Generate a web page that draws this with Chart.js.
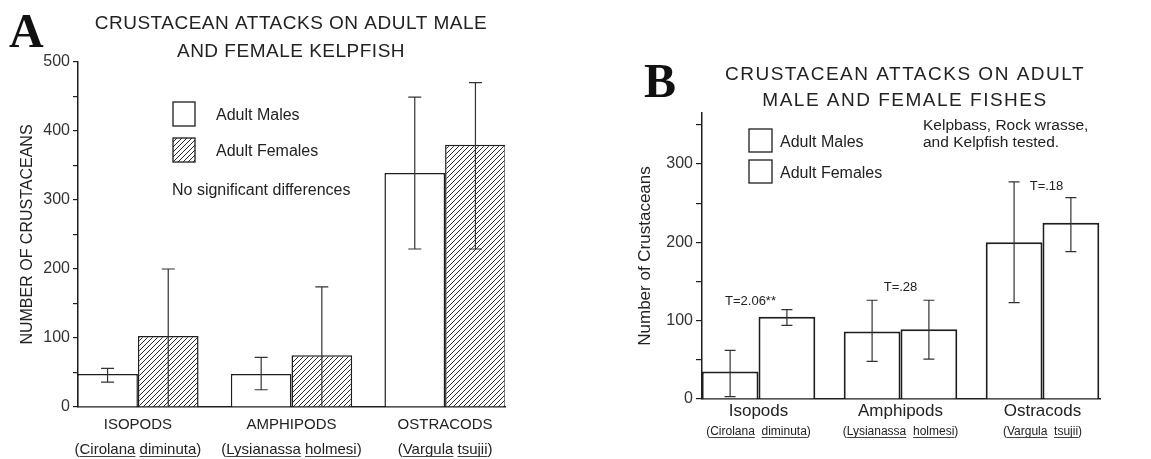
<!DOCTYPE html>
<html>
<head>
<meta charset="utf-8">
<script src="https://cdn.jsdelivr.net/npm/chart.js@4.4.1/dist/chart.umd.min.js"></script>
<style>
  body { margin: 0; background: #fff; }
  #wrap { position: relative; width: 1151px; height: 459px; }
  canvas { position: absolute; top: 0; }
  #chartA { left: 0; }
  #chartB { left: 575px; }
</style>
</head>
<body>
<div id="wrap">
  <canvas id="chartA" width="575" height="459"></canvas>
  <canvas id="chartB" width="576" height="459"></canvas>
</div>
<script>
// --- panel A: kelpfish only ---
const groupsA = ['ISOPODS', 'AMPHIPODS', 'OSTRACODS'];
const maleA = [48, 48, 339];
const maleLowA = [36, 25, 229];
const maleHighA = [56, 72, 449];
const femaleA = [103, 75, 380];
const femaleLowA = [0, 0, 229];
const femaleHighA = [200, 174, 470];
const yTicksA = [0, 50, 100, 150, 200, 250, 300, 350, 400, 450, 500];

// --- panel B: three fishes ---
const groupsB = ['Isopods', 'Amphipods', 'Ostracods'];
const maleB = [35, 86, 200];
const maleLowB = [3, 48, 123];
const maleHighB = [62, 126, 277];
const femaleB = [105, 89, 225];
const femaleLowB = [94, 51, 188];
const femaleHighB = [114, 126, 257];
const yTicksB = [0, 50, 100, 150, 200, 250, 300, 350];
const tLabelsB = ['T=2.06**', 'T=.28', 'T=.18'];
const tValuesB = [124, 143, 271];

// species names under each group (genus, species)
const species = [['Cirolana', 'diminuta'], ['Lysianassa', 'holmesi'], ['Vargula', 'tsujii']];

const INK = '#1e1e1e';
const TEXT = '#222';
const SANS = "'Liberation Sans', Arial, Helvetica, sans-serif";
const SERIF = "'Liberation Serif', 'Times New Roman', serif";

Chart.defaults.font.family = SANS;
Chart.defaults.color = TEXT;

function hatch() {
  const c = document.createElement('canvas');
  c.width = 5; c.height = 5;
  const g = c.getContext('2d');
  g.fillStyle = '#fff';
  g.fillRect(0, 0, 5, 5);
  g.strokeStyle = '#2a2a2a';
  g.lineWidth = 1;
  g.beginPath();
  g.moveTo(0, 5); g.lineTo(5, 0);
  g.moveTo(-1, 1); g.lineTo(1, -1);
  g.moveTo(4, 6); g.lineTo(6, 4);
  g.stroke();
  return g.createPattern(c, 'repeat');
}

const points = arr => arr.map((v, i) => ({ x: i, y: v }));

const errorBars = {
  id: 'errorBars',
  afterDatasetsDraw(chart) {
    const { ctx } = chart;
    const y = chart.scales.y;
    const cap = chart.canvas.id === 'chartA' ? 6.5 : 5.5;
    chart.data.datasets.forEach((ds, di) => {
      chart.getDatasetMeta(di).data.forEach((bar, i) => {
        const top = y.getPixelForValue(ds.errHigh[i]);
        const bot = y.getPixelForValue(ds.errLow[i]);
        ctx.save();
        ctx.strokeStyle = '#333';
        ctx.lineWidth = 1.2;
        ctx.beginPath();
        ctx.moveTo(bar.x, top); ctx.lineTo(bar.x, bot);
        ctx.moveTo(bar.x - cap, top); ctx.lineTo(bar.x + cap, top);
        if (ds.errLow[i] > 0) { ctx.moveTo(bar.x - cap, bot); ctx.lineTo(bar.x + cap, bot); }
        ctx.stroke();
        ctx.restore();
      });
    });
  }
};

// letter, title, legend, notes, species names, T labels
function decor(d) {
  return {
    id: 'decor',
    afterDraw(chart) {
      const { ctx, chartArea } = chart;
      const xs = chart.scales.x, ys = chart.scales.y;
      ctx.save();
      ctx.fillStyle = '#111';
      ctx.textBaseline = 'alphabetic';
      ctx.textAlign = 'left';
      ctx.font = 'bold 48px ' + SERIF;
      ctx.fillText(d.letter, d.letterX, d.letterY);

      ctx.fillStyle = TEXT;
      ctx.textAlign = 'center';
      ctx.textBaseline = 'middle';
      ctx.font = d.titleSize + 'px ' + SANS;
      ctx.letterSpacing = d.titleSpacing;
      d.title.forEach((t, i) => ctx.fillText(t, d.titleX, d.titleY[i]));
      ctx.letterSpacing = '0px';

      // legend
      ctx.textAlign = 'left';
      ctx.font = '16px ' + SANS;
      chart.data.datasets.forEach((ds, i) => {
        ctx.fillStyle = ds.backgroundColor;
        ctx.fillRect(d.boxX, d.boxY[i], d.boxW, d.boxH);
        ctx.strokeStyle = INK;
        ctx.lineWidth = 1.3;
        ctx.strokeRect(d.boxX, d.boxY[i], d.boxW, d.boxH);
        ctx.fillStyle = TEXT;
        ctx.fillText(ds.label, d.legTextX, d.boxY[i] + d.boxH / 2 + 2);
      });

      // notes
      ctx.font = d.noteSize + 'px ' + SANS;
      d.notes.forEach((t, i) => ctx.fillText(t, d.noteX, d.noteY[i]));

      // species names, underlined
      ctx.font = d.spSize + 'px ' + SANS;
      ctx.textBaseline = 'alphabetic';
      ctx.lineWidth = 1;
      ctx.strokeStyle = '#444';
      species.forEach(([g, s], i) => {
        const full = '(' + g + d.spGap + s + ')';
        const w = ctx.measureText(full).width;
        const x0 = xs.getPixelForValue(i) - w / 2;
        const base = chartArea.bottom + d.spDy;
        ctx.fillText(full, x0, base);
        const gx = x0 + ctx.measureText('(').width;
        const gw = ctx.measureText(g).width;
        const sx = x0 + ctx.measureText('(' + g + d.spGap).width;
        const sw = ctx.measureText(s).width;
        ctx.beginPath();
        ctx.moveTo(gx, base + 2.5); ctx.lineTo(gx + gw, base + 2.5);
        ctx.moveTo(sx, base + 2.5); ctx.lineTo(sx + sw, base + 2.5);
        ctx.stroke();
      });

      // T statistics
      if (d.tLabels) {
        ctx.font = '13px ' + SANS;
        ctx.textAlign = 'center';
        ctx.textBaseline = 'middle';
        d.tLabels.forEach((t, i) => {
          ctx.fillText(t, xs.getPixelForValue(i) + d.tShift[i], ys.getPixelForValue(d.tValues[i]));
        });
      }
      ctx.restore();
    }
  };
}

function axes(p) {
  return {
    x: {
      type: 'linear',
      min: p.xMin,
      max: p.xMax,
      offset: false,
      afterBuildTicks: s => { s.ticks = p.groups.map((_, i) => ({ value: i })); },
      afterFit: s => { s.height = p.xHeight; },
      ticks: {
        autoSkip: false,
        maxRotation: 0,
        padding: p.xPad,
        font: { size: p.xFont },
        color: TEXT,
        callback: v => p.groups[v]
      },
      grid: { display: false, drawTicks: false },
      border: { color: INK, width: 1.5 }
    },
    y: {
      min: 0,
      max: p.yMax,
      afterBuildTicks: s => { s.ticks = p.yTicks.map(v => ({ value: v })); },
      afterFit: s => { s.width = p.yWidth; },
      ticks: {
        padding: 3,
        font: { size: 16 },
        color: '#333',
        callback: v => (v % 100 === 0 ? v : '')
      },
      grid: { drawOnChartArea: false, tickLength: p.tickLen, color: INK, lineWidth: 1.2 },
      border: { color: INK, width: 1.5 },
      title: {
        display: true,
        text: p.yTitle,
        font: { size: p.yTitleSize },
        color: TEXT,
        padding: { top: p.yTitlePad, bottom: 0 }
      }
    }
  };
}

// ----- chart A -----
new Chart(document.getElementById('chartA'), {
  type: 'bar',
  data: {
    datasets: [
      {
        label: 'Adult Males',
        data: points(maleA),
        errLow: maleLowA,
        errHigh: maleHighA,
        backgroundColor: '#fff',
        borderColor: INK,
        borderWidth: 1.5,
        borderSkipped: 'bottom'
      },
      {
        label: 'Adult Females',
        data: points(femaleA),
        errLow: femaleLowA,
        errHigh: femaleHighA,
        backgroundColor: hatch(),
        borderColor: INK,
        borderWidth: 1.5,
        borderSkipped: 'bottom'
      }
    ]
  },
  options: {
    responsive: false,
    animation: false,
    events: [],
    categoryPercentage: 0.79,
    barPercentage: 1,
    layout: { padding: { left: 0, right: 70, top: 62, bottom: 0 } },
    scales: axes({
      groups: groupsA, xMin: -0.39, xMax: 2.39, xHeight: 52, xPad: 9, xFont: 15,
      yMax: 500, yTicks: yTicksA, yWidth: 78, tickLen: 5,
      yTitle: 'NUMBER OF CRUSTACEANS', yTitleSize: 16, yTitlePad: 18
    }),
    plugins: { legend: { display: false }, tooltip: { enabled: false } }
  },
  plugins: [errorBars, decor({
    letter: 'A', letterX: 9, letterY: 47,
    title: ['CRUSTACEAN ATTACKS ON ADULT MALE', 'AND FEMALE KELPFISH'],
    titleX: 291, titleY: [24, 52], titleSize: 19, titleSpacing: '0.5px',
    boxX: 173, boxY: [102, 138], boxW: 22, boxH: 24, legTextX: 216,
    notes: ['No significant differences'], noteX: 172, noteY: [191], noteSize: 16,
    spSize: 15, spGap: ' ', spDy: 47
  })]
});

// ----- chart B -----
new Chart(document.getElementById('chartB'), {
  type: 'bar',
  data: {
    datasets: [
      {
        label: 'Adult Males',
        data: points(maleB),
        errLow: maleLowB,
        errHigh: maleHighB,
        backgroundColor: '#fff',
        borderColor: INK,
        borderWidth: 2,
        borderSkipped: 'bottom'
      },
      {
        label: 'Adult Females',
        data: points(femaleB),
        errLow: femaleLowB,
        errHigh: femaleHighB,
        backgroundColor: '#fff',
        borderColor: INK,
        borderWidth: 2,
        borderSkipped: 'bottom'
      }
    ]
  },
  options: {
    responsive: false,
    animation: false,
    events: [],
    categoryPercentage: 0.8,
    barPercentage: 1,
    layout: { padding: { left: 0, right: 51, top: 113, bottom: 0 } },
    scales: axes({
      groups: groupsB, xMin: -0.398, xMax: 2.405, xHeight: 60, xPad: 2, xFont: 17,
      yMax: 365, yTicks: yTicksB, yWidth: 127, tickLen: 6,
      yTitle: 'Number of Crustaceans', yTitleSize: 17, yTitlePad: 60
    }),
    plugins: { legend: { display: false }, tooltip: { enabled: false } }
  },
  plugins: [errorBars, decor({
    letter: 'B', letterX: 69, letterY: 97,
    title: ['CRUSTACEAN ATTACKS ON ADULT', 'MALE AND FEMALE FISHES'],
    titleX: 330, titleY: [75, 101], titleSize: 19, titleSpacing: '1.5px',
    boxX: 174, boxY: [129, 160], boxW: 23, boxH: 23, legTextX: 205,
    notes: ['Kelpbass, Rock wrasse,', 'and Kelpfish tested.'], noteX: 348, noteY: [126, 143], noteSize: 15.5,
    spSize: 12, spGap: '  ', spDy: 36,
    tLabels: tLabelsB, tValues: tValuesB, tShift: [-8, 0, 4]
  })]
});
</script>
</body>
</html>
